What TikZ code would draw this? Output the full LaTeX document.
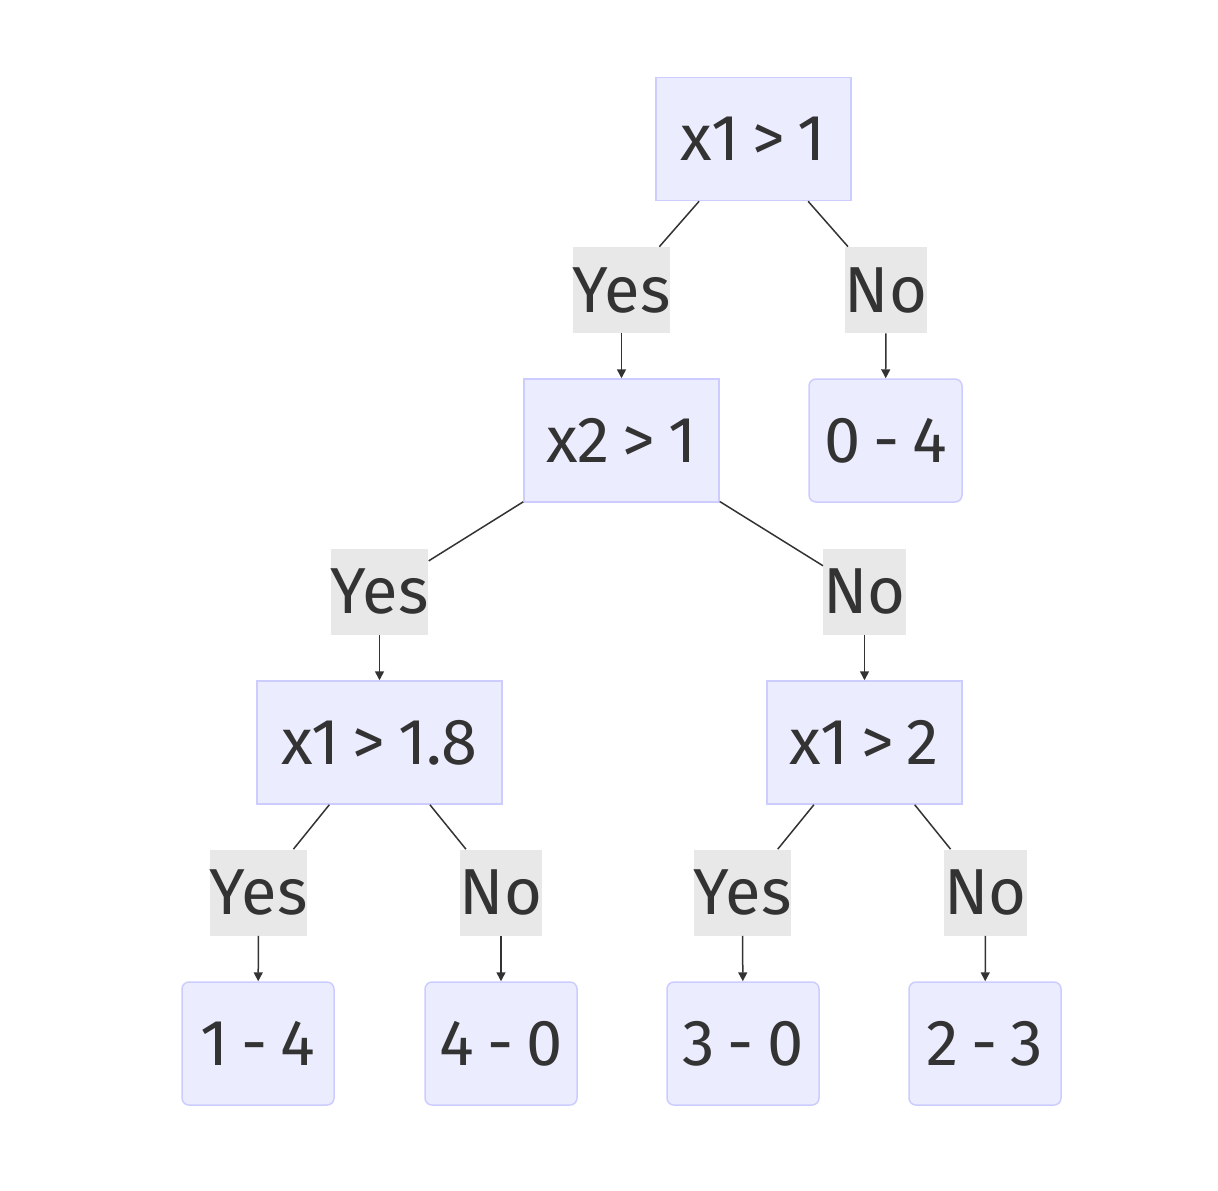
\documentclass[tikz,border=0pt]{standalone}
\usepackage{fontspec}
\setmainfont[WordSpace=0.75]{Fira Sans}
\usepackage{tikz}
\usetikzlibrary{arrows.meta,positioning}
\definecolor{nodefill}{HTML}{ECECFF}
\definecolor{nodeline}{HTML}{CCCCFF}
\definecolor{labelfill}{HTML}{E8E8E8}
\definecolor{ink}{HTML}{333333}
\begin{document}
\begin{tikzpicture}[
  test/.style={draw=nodeline, fill=nodefill, line width=0.03cm, text=ink,
    minimum width=#1, minimum height=2.46cm, inner sep=0pt,
    font=\fontsize{37}{44}\selectfont},
  leaf/.style={test=#1, rounded corners=0.14cm},
  answer/.style={fill=labelfill, text=ink, minimum width=#1, minimum height=1.72cm,
    inner sep=0pt, font=\fontsize{37}{44}\selectfont},
  branch/.style={draw=ink, line width=0.03cm},
  down/.style={branch, -{Triangle[length=0.18cm, width=0.18cm]}}
]
\useasboundingbox (0,0) rectangle (24.36,-23.8);

% questions
\node[test=3.9cm] (q1) at (15.07,-2.78) {x1 > 1};
\node[test=3.9cm] (q2) at (12.43,-8.81) {x2 > 1};
\node[test=4.9cm] (q3) at (7.59,-14.85) {x1 > 1.8};
\node[test=3.9cm] (q4) at (17.29,-14.85) {x1 > 2};

% results
\node[leaf=3.06cm] (r04) at (17.71,-8.81) {0 - 4};
\node[leaf=3.04cm] (r14) at (5.16,-20.87) {1 - 4};
\node[leaf=3.04cm] (r40) at (10.02,-20.87) {4 - 0};
\node[leaf=3.04cm] (r30) at (14.86,-20.87) {3 - 0};
\node[leaf=3.04cm] (r23) at (19.70,-20.87) {2 - 3};

% edge labels
\node[answer=1.82cm] (y1) at (12.43,-5.80) {Yes};
\node[answer=1.56cm] (n1) at (17.72,-5.80) {No};
\node[answer=1.82cm] (y2) at (7.59,-11.83) {Yes};
\node[answer=1.62cm] (n2) at (17.29,-11.83) {No};
\node[answer=1.82cm] (y3) at (5.17,-17.85) {Yes};
\node[answer=1.60cm] (n3) at (10.02,-17.85) {No};
\node[answer=1.82cm] (y4) at (14.85,-17.85) {Yes};
\node[answer=1.62cm] (n4) at (19.71,-17.85) {No};

\foreach \from/\lab/\to in {q1/y1/q2, q1/n1/r04, q2/y2/q3, q2/n2/q4,
  q3/y3/r14, q3/n3/r40, q4/y4/r30, q4/n4/r23}{
  \draw[branch] (\from) -- (\lab);
  \draw[down] (\lab) -- (\to);
}
\end{tikzpicture}
\end{document}
